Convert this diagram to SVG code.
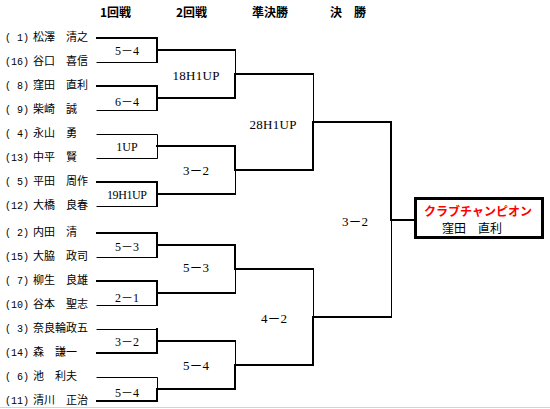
<svg xmlns="http://www.w3.org/2000/svg" width="550" height="409" viewBox="0 0 550 409">
<style>
.bg{fill:#ffffff}
.thick{fill:none;stroke:#000;stroke-width:2;stroke-linecap:square}
.thin{fill:none;stroke:#000;stroke-width:1;stroke-linecap:square}
.seed{font-family:"Liberation Mono","DejaVu Sans Mono",monospace;font-size:10px;fill:#000}
.name{font-family:"Noto Sans CJK JP","Noto Sans CJK SC",sans-serif;font-size:11px;fill:#000}
.hdr{font-family:"Noto Sans CJK JP","Noto Sans CJK SC",sans-serif;font-size:12px;font-weight:bold;fill:#000}
.sc{font-family:"Liberation Serif","Noto Sans CJK JP",serif;font-size:13px;fill:#000;text-anchor:middle}
.sc1{font-family:"Liberation Serif","Noto Sans CJK JP",serif;font-size:12px;fill:#000;text-anchor:middle}
.champ{font-family:"Noto Sans CJK JP","Noto Sans CJK SC",sans-serif;font-size:12px;font-weight:bold;fill:#ff0000}
.champn{font-family:"Noto Sans CJK JP","Noto Sans CJK SC",sans-serif;font-size:12px;fill:#000}
</style>
<rect class="bg" x="0" y="0" width="550" height="409"/>
<line x1="0" y1="407.5" x2="550" y2="407.5" stroke="#d4d4d4" stroke-width="1"/>

<g id="headers">
<text class="hdr" x="100" y="17">1回戦</text>
<text class="hdr" x="176" y="17">2回戦</text>
<text class="hdr" x="252" y="17">準決勝</text>
<text class="hdr" x="330" y="17">決　勝</text>
</g>

<g id="connectors">
<!-- round 1 -->
<path class="thick" d="M97 38 H157 V62"/><path class="thin" d="M97 62.5 H157"/>
<path class="thick" d="M97 86 H157 V110"/><path class="thin" d="M97 110.5 H157"/>
<path class="thin" d="M97 134.5 H157.5 V158.5 H97"/>
<path class="thick" d="M97 182 H157 V206"/><path class="thin" d="M97 206.5 H157"/>
<path class="thick" d="M97 233 H157 V257"/><path class="thin" d="M97 257.5 H157"/>
<path class="thick" d="M97 281 H157 V305"/><path class="thin" d="M97 305.5 H157"/>
<path class="thin" d="M97 329.5 H157"/><path class="thick" d="M157 329 V353 H97"/>
<path class="thin" d="M97 377.5 H157.5 V389"/><path class="thick" d="M157 389 V401 H97"/>
<!-- round 2 -->
<path class="thick" d="M157 50 H235"/><path class="thick" d="M157 98 H235 V74"/><path class="thin" d="M235.5 50 V74"/>
<path class="thick" d="M157 194 H235"/><path class="thick" d="M157 146 H235 V170"/><path class="thin" d="M235.5 170 V194"/>
<path class="thick" d="M157 293 H235"/><path class="thick" d="M157 245 H235 V269"/><path class="thin" d="M235.5 269 V293"/>
<path class="thick" d="M157 341 H235"/><path class="thick" d="M157 389 H235 V365"/><path class="thin" d="M235.5 341 V365"/>
<!-- round 3 -->
<path class="thick" d="M235 74 H313"/><path class="thick" d="M235 170 H313 V122"/><path class="thin" d="M313.5 74 V122"/>
<path class="thick" d="M235 269 H313"/><path class="thick" d="M235 365 H313 V317"/><path class="thin" d="M313.5 269 V317"/>
<!-- final -->
<path class="thick" d="M313 122 H391 V220"/><path class="thick" d="M313 317 H391"/><path class="thin" d="M391.5 220 V317"/>
<path class="thick" d="M391 220 H415"/>
</g>

<g id="players">
<g id="p1"><text class="seed" x="5" y="41">( 1)</text><text class="name" x="33" y="41">松澤　清之</text></g>
<g id="p16"><text class="seed" x="5" y="65">(16)</text><text class="name" x="33" y="65">谷口　喜信</text></g>
<g id="p8"><text class="seed" x="5" y="89">( 8)</text><text class="name" x="33" y="89">窪田　直利</text></g>
<g id="p9"><text class="seed" x="5" y="113">( 9)</text><text class="name" x="33" y="113">柴崎　誠</text></g>
<g id="p4"><text class="seed" x="5" y="137">( 4)</text><text class="name" x="33" y="137">永山　勇</text></g>
<g id="p13"><text class="seed" x="5" y="161">(13)</text><text class="name" x="33" y="161">中平　賢</text></g>
<g id="p5"><text class="seed" x="5" y="185">( 5)</text><text class="name" x="33" y="185">平田　周作</text></g>
<g id="p12"><text class="seed" x="5" y="209">(12)</text><text class="name" x="33" y="209">大橋　良春</text></g>
<g id="p2"><text class="seed" x="5" y="236">( 2)</text><text class="name" x="33" y="236">内田　清</text></g>
<g id="p15"><text class="seed" x="5" y="260">(15)</text><text class="name" x="33" y="260">大脇　政司</text></g>
<g id="p7"><text class="seed" x="5" y="284">( 7)</text><text class="name" x="33" y="284">柳生　良雄</text></g>
<g id="p10"><text class="seed" x="5" y="308">(10)</text><text class="name" x="33" y="308">谷本　聖志</text></g>
<g id="p3"><text class="seed" x="5" y="332">( 3)</text><text class="name" x="33" y="332">奈良輪政五</text></g>
<g id="p14"><text class="seed" x="5" y="356">(14)</text><text class="name" x="33" y="356">森　謙一</text></g>
<g id="p6"><text class="seed" x="5" y="380">( 6)</text><text class="name" x="33" y="380">池　利夫</text></g>
<g id="p11"><text class="seed" x="5" y="404">(11)</text><text class="name" x="33" y="404">清川　正治</text></g>
</g>

<g id="scores">
<text class="sc1" x="127" y="55">5－4</text>
<text class="sc1" x="127" y="105.5">6－4</text>
<text class="sc1" x="127" y="150.5">1UP</text>
<text class="sc1" x="127" y="198.5" textLength="40">19H1UP</text>
<text class="sc1" x="127" y="250.5">5－3</text>
<text class="sc1" x="127" y="302">2－1</text>
<text class="sc1" x="127" y="345.5">3－2</text>
<text class="sc1" x="127" y="397">5－4</text>
<text class="sc" x="196" y="79.5" textLength="47">18H1UP</text>
<text class="sc" x="196" y="175">3－2</text>
<text class="sc" x="196" y="272">5－3</text>
<text class="sc" x="196" y="369.5">5－4</text>
<text class="sc" x="273" y="128.5" textLength="47">28H1UP</text>
<text class="sc" x="274" y="322.5">4－2</text>
<text class="sc" x="355" y="225.5">3－2</text>
</g>

<g id="champion">
<rect x="415.5" y="198.5" width="127" height="39" fill="#fff" stroke="#000" stroke-width="3"/>
<text class="champ" x="424" y="216">クラブチャンピオン</text>
<text class="champn" x="442" y="233">窪田　直利</text>
</g>
</svg>
